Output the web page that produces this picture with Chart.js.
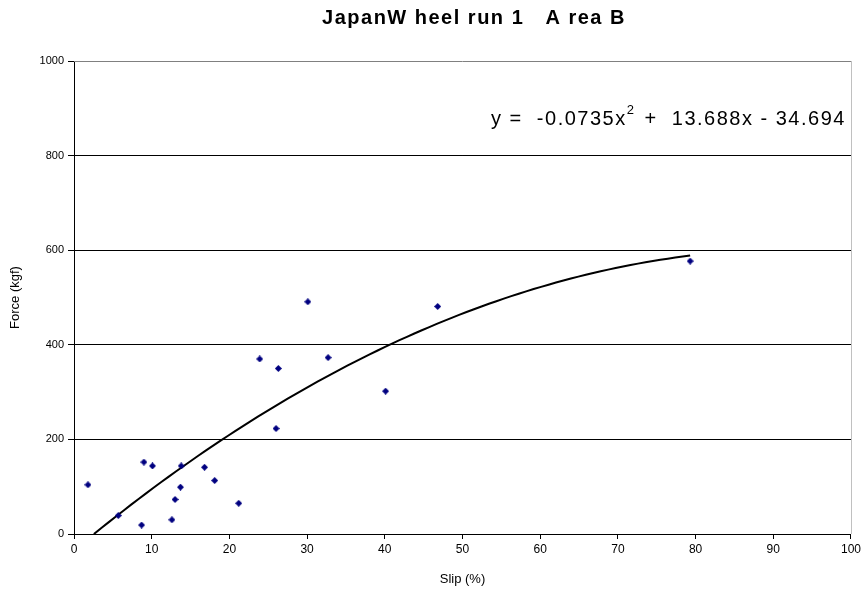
<!DOCTYPE html>
<html>
<head>
<meta charset="utf-8">
<script src="https://cdn.jsdelivr.net/npm/chart.js@4.4.0/dist/chart.umd.min.js"></script>
<style>
  html, body { margin: 0; padding: 0; background: #fff; }
  #wrap { width: 864px; height: 596px; position: relative; }
</style>
</head>
<body>
<div id="wrap"><canvas id="slipChart" width="864" height="596"></canvas></div>
<script>
// measured slip (%) vs traction force (kgf)
const slipValues = [1.8, 5.7, 8.7, 9.0, 10.1, 12.6, 13.0, 13.7, 13.8, 16.8, 18.1, 21.2, 23.9, 26.0, 26.3, 30.1, 32.7, 40.1, 46.8, 79.3];
const forceValues = [104, 39, 19, 152, 144, 30, 73, 99, 144, 141, 113, 65, 370, 223, 350, 491, 373, 302, 481, 577];

const xTicks = [0, 10, 20, 30, 40, 50, 60, 70, 80, 90, 100];
const yTicks = [0, 200, 400, 600, 800, 1000];

// polynomial trendline coefficients (a*x^2 + b*x + c)
const trendCoef = [-0.0735, 13.688, -34.694];
const trendRange = [2.56, 79.3];

function trend(x) {
  return trendCoef[0] * x * x + trendCoef[1] * x + trendCoef[2];
}

// sample the fitted curve over the data range
const trendPoints = [];
for (let i = 0; i <= 80; i++) {
  const x = trendRange[0] + (trendRange[1] - trendRange[0]) * i / 80;
  trendPoints.push({ x: x, y: trend(x) });
}

const scatterPoints = slipValues.map((x, i) => ({ x: x, y: forceValues[i] }));

// diamond marker
function diamond(size, color) {
  const c = document.createElement('canvas');
  c.width = size; c.height = size;
  const g = c.getContext('2d');
  const h = size / 2;
  g.fillStyle = color;
  g.beginPath();
  g.moveTo(h, 0); g.lineTo(size, h); g.lineTo(h, size); g.lineTo(0, h);
  g.closePath();
  g.fill();
  return c;
}

// title, equation and plot frame
const decorPlugin = {
  id: 'decor',
  afterDraw(chart) {
    const ctx = chart.ctx;
    const a = chart.chartArea;
    ctx.save();
    // frame: gray top, light gray right
    ctx.lineWidth = 1;
    ctx.strokeStyle = '#808080';
    ctx.beginPath();
    ctx.moveTo(a.left, a.top + 0.5); ctx.lineTo(a.right, a.top + 0.5);
    ctx.stroke();
    ctx.strokeStyle = '#c0c0c0';
    ctx.beginPath();
    ctx.moveTo(a.right + 0.5, a.top); ctx.lineTo(a.right + 0.5, a.bottom);
    ctx.stroke();

    ctx.fillStyle = '#000';
    ctx.textBaseline = 'middle';
    ctx.textAlign = 'center';
    ctx.letterSpacing = '1.5px';
    ctx.font = 'bold 20px "Liberation Sans", Arial, sans-serif';
    ctx.fillText('JapanW heel run 1   A rea B', 474, 18);

    // trendline equation
    ctx.textAlign = 'left';
    ctx.letterSpacing = '1.5px';
    ctx.font = '20px "Liberation Sans", Arial, sans-serif';
    let x = 491;
    const y = 119;
    const part1 = 'y =  -0.0735x';
    ctx.fillText(part1, x, y);
    x += ctx.measureText(part1).width;
    ctx.font = '13px "Liberation Sans", Arial, sans-serif';
    ctx.fillText('2', x, y - 9);
    x += ctx.measureText('2').width + 2;
    ctx.font = '20px "Liberation Sans", Arial, sans-serif';
    ctx.fillText(' +  13.688x - 34.694', x, y);
    ctx.restore();
  }
};

const ctx = document.getElementById('slipChart').getContext('2d');

new Chart(ctx, {
  type: 'scatter',
  data: {
    datasets: [
      {
        label: 'Force',
        data: scatterPoints,
        pointStyle: diamond(7, '#000080'),
        pointRadius: 3.5,
        pointHoverRadius: 3.5
      },
      {
        label: 'Trend',
        type: 'line',
        data: trendPoints,
        borderColor: '#000',
        borderWidth: 2,
        pointRadius: 0,
        fill: false,
        tension: 0
      }
    ]
  },
  options: {
    responsive: false,
    animation: false,
    layout: { padding: { top: 61, right: 9, left: 0, bottom: 0 } },
    plugins: {
      legend: { display: false },
      tooltip: { enabled: false },
      title: { display: false }
    },
    scales: {
      x: {
        type: 'linear',
        min: 0,
        max: 100,
        afterBuildTicks: (axis) => { axis.ticks = xTicks.map(v => ({ value: v })); },
        afterFit: (axis) => { axis.height = 62; },
        grid: {
          drawOnChartArea: false,
          drawTicks: true,
          tickLength: 5,
          color: '#000'
        },
        border: { color: '#000', width: 1 },
        ticks: {
          color: '#000',
          padding: 3,
          maxRotation: 0,
          font: { family: '"Liberation Sans Narrow", "Liberation Sans", Arial', size: 12 }
        },
        title: {
          display: true,
          text: 'Slip (%)',
          color: '#000',
          padding: { top: 0, bottom: 9 },
          font: { family: '"Liberation Sans Narrow", "Liberation Sans", Arial', size: 13 }
        }
      },
      y: {
        min: 0,
        max: 1000,
        afterBuildTicks: (axis) => { axis.ticks = yTicks.map(v => ({ value: v })); },
        afterFit: (axis) => { axis.width = 74; },
        grid: {
          color: (c) => c.tick && c.tick.value === 1000 ? 'rgba(0,0,0,0)' : '#000',
          tickColor: '#000',
          tickLength: 6,
          lineWidth: 1
        },
        border: { color: '#000', width: 1 },
        ticks: {
          color: '#000',
          padding: 4,
          callback: (v) => String(v),
          font: { family: '"Liberation Sans", Arial', size: 11 }
        },
        title: {
          display: true,
          text: 'Force (kgf)',
          color: '#000',
          padding: { top: 8, bottom: 4 },
          font: { family: '"Liberation Sans", Arial', size: 13 }
        }
      }
    }
  },
  plugins: [decorPlugin]
});
</script>
</body>
</html>
